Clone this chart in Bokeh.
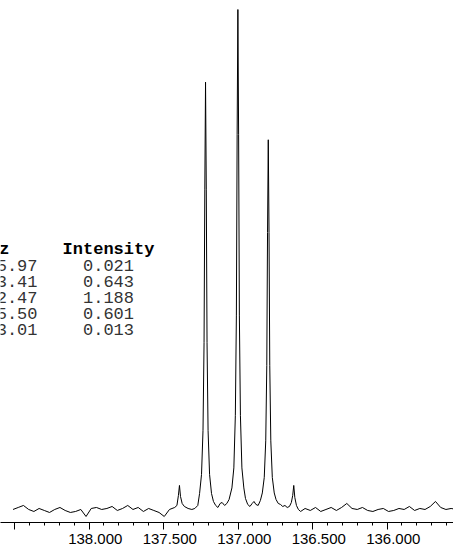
from bokeh.plotting import figure
from bokeh.models import Range1d, FixedTicker, PrintfTickFormatter, Label
from bokeh.embed import file_html
from bokeh.resources import INLINE

# ---- spectrum (ppm, relative intensity) ----
ppm = [
    138.51, 138.475, 138.44, 138.405, 138.37, 138.335, 138.30, 138.265, 138.23, 138.195,
    138.16, 138.125, 138.09, 138.055, 138.02, 137.985, 137.95, 137.915, 137.88, 137.845,
    137.81, 137.775, 137.74, 137.705, 137.67, 137.635, 137.60, 137.565, 137.53, 137.495,
    137.46, 137.425,
    137.41, 137.40, 137.393, 137.386, 137.375, 137.36, 137.335, 137.31, 137.29, 137.27,
    137.258, 137.245, 137.235, 137.228, 137.223, 137.218, 137.213, 137.208, 137.201, 137.191, 137.178,
    137.165, 137.15, 137.135, 137.12, 137.107, 137.09, 137.075, 137.06,
    137.041, 137.028, 137.018, 137.011, 137.006, 137.001, 136.996, 136.991, 136.984, 136.974, 136.961,
    136.95, 136.935, 136.92, 136.905, 136.893, 136.88, 136.865, 136.85,
    136.837, 136.824, 136.814, 136.807, 136.802, 136.797, 136.792, 136.787, 136.780, 136.770, 136.757,
    136.745, 136.73, 136.715, 136.70, 136.685, 136.67, 136.655, 136.642, 136.633, 136.626,
    136.619, 136.608, 136.595,
    136.58, 136.55, 136.515, 136.48, 136.445, 136.41, 136.375, 136.34, 136.305, 136.27,
    136.235, 136.20, 136.165, 136.13, 136.095, 136.06, 136.025, 135.99, 135.955, 135.92,
    135.885, 135.85, 135.815, 135.78, 135.745, 135.71, 135.675, 135.64, 135.605, 135.57, 135.535,
]
intensity = [
    0.002, 0.006, 0.010, 0.002, -0.002, 0.004, 0.000, -0.004, 0.002, 0.006,
    0.000, -0.004, -0.002, 0.002, -0.012, 0.004, 0.006, 0.002, 0.004, 0.008,
    0.000, 0.004, 0.010, 0.002, 0.006, -0.002, 0.004, 0.000, -0.004, -0.012,
    0.002, 0.006,
    0.010, 0.030, 0.050, 0.028, 0.014, 0.008, 0.004, 0.002, 0.004, 0.010,
    0.034, 0.072, 0.160, 0.335, 0.640, 0.855, 0.640, 0.335, 0.160, 0.072, 0.034,
    0.018, 0.010, 0.006, 0.014, 0.016, 0.010, 0.014, 0.022,
    0.045, 0.085, 0.190, 0.390, 0.750, 1.000, 0.750, 0.390, 0.190, 0.085, 0.045,
    0.024, 0.012, 0.008, 0.014, 0.018, 0.012, 0.010, 0.020,
    0.035, 0.066, 0.139, 0.289, 0.555, 0.740, 0.555, 0.289, 0.139, 0.066, 0.035,
    0.022, 0.014, 0.012, 0.008, 0.010, 0.006, 0.008, 0.016, 0.030, 0.050,
    0.026, 0.010, 0.002,
    -0.002, 0.004, 0.000, 0.006, -0.002, 0.002, 0.006, 0.000, 0.006, 0.014,
    0.004, 0.002, 0.006, 0.000, -0.002, 0.002, 0.004, -0.002, 0.000, 0.004,
    0.002, 0.008, 0.000, 0.004, 0.002, 0.008, 0.018, 0.006, 0.002, 0.004, 0.002,
]

# ---- axis ticks ----
major_ticks = [138.5, 138.0, 137.5, 137.0, 136.5, 136.0]
minor_ticks = [138.4, 138.3, 138.2, 138.1, 137.9, 137.8, 137.7, 137.6,
               137.4, 137.3, 137.2, 137.1, 136.9, 136.8, 136.7, 136.6,
               136.4, 136.3, 136.2, 136.1, 135.9, 135.8, 135.7, 135.6]

# ---- peak table ----
hz_header = "Hz"
int_header = "Intensity"
hz_values = ["20605.97", "20583.41", "20552.47", "20525.50", "20503.01"]
intensity_values = ["0.021", "0.643", "1.188", "0.601", "0.013"]

p = figure(width=453, height=549, output_backend="svg", toolbar_location=None,
           x_range=Range1d(138.594, 135.554), y_range=Range1d(-0.024, 1.018),
           y_axis_location=None, min_border_left=0, min_border_right=0,
           min_border_top=0, min_border_bottom=0)
p.outline_line_color = None
p.xgrid.visible = False
p.ygrid.visible = False
p.background_fill_color = "white"
p.border_fill_color = "white"

p.line(ppm, intensity, line_color="black", line_width=1)

ax = p.xaxis[0]
ax.ticker = FixedTicker(ticks=major_ticks, minor_ticks=minor_ticks)
ax.formatter = PrintfTickFormatter(format="\u2002\u2004%.3f")
ax.major_label_overrides = {138.5: ""}
ax.axis_line_color = "black"
ax.major_tick_line_color = "black"
ax.minor_tick_line_color = "black"
ax.major_tick_in = 0
ax.major_tick_out = 7
ax.minor_tick_in = 0
ax.minor_tick_out = 3
ax.major_label_standoff = 0
ax.major_label_text_font = "Liberation Sans"
ax.major_label_text_font_size = "15px"
ax.major_label_text_color = "black"

FRAME_H = 524
def sy(canvas_y):
    return FRAME_H - canvas_y

mono = "Liberation Mono"
p.add_layout(Label(x=9, y=sy(251), x_units="screen", y_units="screen", text=hz_header,
                   text_font=mono, text_font_size="17px", text_font_style="bold",
                   text_align="right", text_baseline="middle", text_color="black"))
p.add_layout(Label(x=108, y=sy(251), x_units="screen", y_units="screen", text=int_header,
                   text_font=mono, text_font_size="17px", text_font_style="bold",
                   text_align="center", text_baseline="middle", text_color="black"))
for i, (hz, it) in enumerate(zip(hz_values, intensity_values)):
    cy = 267 + 16 * i
    p.add_layout(Label(x=37, y=sy(cy), x_units="screen", y_units="screen", text=hz,
                       text_font=mono, text_font_size="17px",
                       text_align="right", text_baseline="middle", text_color="#333333"))
    p.add_layout(Label(x=108, y=sy(cy), x_units="screen", y_units="screen", text=it,
                       text_font=mono, text_font_size="17px",
                       text_align="center", text_baseline="middle", text_color="#333333"))

open("out.html", "w").write(file_html(p, INLINE))
